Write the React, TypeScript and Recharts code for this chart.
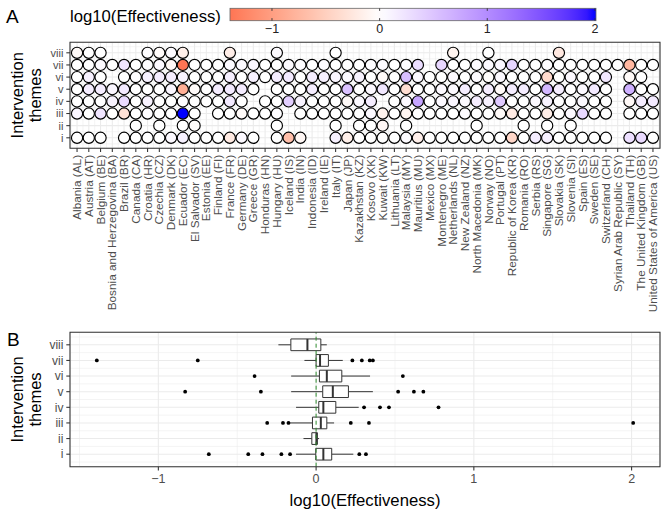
import React from 'react';
import { ScatterChart, Scatter, XAxis, YAxis, CartesianGrid, ReferenceLine, ReferenceArea } from 'recharts';

const FONT = '"Liberation Sans", Arial, Helvetica, sans-serif';
const N = null;

const countries = [
  'Albania (AL)', 'Austria (AT)', 'Belgium (BE)', 'Bosnia and Herzegovina (BA)', 'Brazil (BR)', 'Canada (CA)', 'Croatia (HR)', 'Czechia (CZ)', 'Denmark (DK)', 'Ecuador (EC)',
  'El Salvador (SV)', 'Estonia (EE)', 'Finland (FI)', 'France (FR)', 'Germany (DE)', 'Greece (GR)', 'Honduras (HN)', 'Hungary (HU)', 'Iceland (IS)', 'India (IN)',
  'Indonesia (ID)', 'Ireland (IE)', 'Italy (IT)', 'Japan (JP)', 'Kazakhstan (KZ)', 'Kosovo (XK)', 'Kuwait (KW)', 'Lithuania (LT)', 'Malaysia (MY)', 'Mauritius (MU)',
  'Mexico (MX)', 'Montenegro (ME)', 'Netherlands (NL)', 'New Zealand (NZ)', 'North Macedonia (MK)', 'Norway (NO)', 'Portugal (PT)', 'Republic of Korea (KR)', 'Romania (RO)', 'Serbia (RS)',
  'Singapore (SG)', 'Slovakia (SK)', 'Slovenia (SI)', 'Spain (ES)', 'Sweden (SE)', 'Switzerland (CH)', 'Syrian Arab Republic (SY)', 'Thailand (TH)', 'The United Kingdom (GB)', 'United States of America (US)',
];

const themeLabels = ['i', 'ii', 'iii', 'iv', 'v', 'vi', 'vii', 'viii'];

// log10(Effectiveness) per country (index as in `countries`), one array per theme
const effI = [
  0, 0, 0, N, 0, 0, 0, 0, 0.05, 0.12,
  0, 0, 0, -0.22, 0.05, 0, N, 0, -0.68, -0.08,
  N, N, 0.12, -0.16, 0, 0, 0, 0, 0.03, -0.165,
  0, 0, 0, 0, 0, 0, 0, -0.43, 0, 0.15,
  0.12, 0, 0, 0, 0, 0, N, 0.274, 0.316, 0,
];
const effII = [
  N, N, N, N, N, 0, N, 0, N, 0,
  -0.03, N, N, N, N, N, N, 0, N, N,
  N, N, 0, N, 0, 0, -0.08, N, 0, N,
  N, N, N, N, 0, N, N, N, 0, N,
  0, N, 0, N, N, N, N, N, N, N,
];
const effIII = [
  0.08, 0, 0.22, 0, -0.31, 0, 0.02, 0, 0, 2.01,
  0, N, 0, 0, -0.05, 0, 0, 0.02, N, 0,
  0, 0, 0, 0, 0, 0.05, -0.12, 0, -0.1, 0,
  0, 0, 0, 0.03, 0, 0, -0.05, -0.21, 0, 0,
  -0.175, 0, 0.05, 0.335, 0, 0, N, 0, 0, 0,
];
const effIV = [
  0, 0, 0, 0.1, 0.31, 0, 0.1, 0, 0, 0.02,
  0, 0, 0, 0.18, 0, N, 0, 0, 0.41, 0.1,
  0, 0, 0, -0.05, 0.05, 0.15, N, 0, 0.05, 0.78,
  0, 0.05, 0.08, 0.05, 0.15, 0.12, 0.46, 0, 0, 0.05,
  0.1, 0, 0, 0.05, 0, 0, N, -0.06, 0.15, 0.18,
];
const effV = [
  0, 0.15, 0.15, 0.08, 0.18, 0, 0, 0, 0.08, -0.83,
  -0.04, 0, 0.15, 0.18, 0.16, 0, N, 0, 0, 0,
  0.15, 0, 0, 0.52, 0, 0.05, 0.2, 0, -0.35, 0,
  0, 0.05, 0.05, 0.15, 0, 0.15, -0.05, 0.15, 0.15, 0,
  0.62, 0.15, 0, 0.05, 0.18, 0, N, 0.68, 0, 0,
];
const effVI = [
  0, 0.12, 0, N, 0, 0.02, 0.12, 0.15, 0.15, 0.1,
  0, 0, 0, 0.14, 0, 0.12, 0, 0.15, 0.18, 0,
  0.15, 0.12, 0.08, 0.04, 0.1, 0, -0.05, 0, 0.55, 0.05,
  0, 0, 0.05, 0, 0.03, -0.02, 0.05, 0, 0, 0,
  -0.39, 0, 0.05, 0, 0, 0.2, N, -0.05, 0, N,
];
const effVII = [
  0, 0, 0.03, 0, 0.23, 0, 0.02, 0.05, -0.07, -1.39,
  0, 0, 0, 0.04, 0.05, 0.08, 0, 0, 0.03, 0.02,
  0, 0.03, 0, 0, 0, 0.02, 0.03, 0, 0.02, 0.29,
  N, 0.34, 0, 0, 0.03, 0.05, 0.08, 0.36, 0, 0,
  0.02, 0, 0, 0, 0, 0, 0, -0.75, 0, 0,
];
const effVIII = [
  -0.05, 0, 0, N, N, N, 0.02, -0.04, 0.03, -0.16,
  N, N, N, -0.18, N, N, N, 0.03, N, N,
  N, N, 0, N, N, N, N, N, N, N,
  N, N, -0.12, N, N, 0, N, N, N, N,
  N, -0.24, N, N, N, N, N, N, N, N,
];
const themeRows = [effI, effII, effIII, effIV, effV, effVI, effVII, effVIII];

// Boxplot statistics per theme (i .. viii)
const boxLow = [-0.127, -0.08, -0.165, -0.127, -0.158, -0.158, -0.074, -0.239];
const boxQ1 = [-0.002, -0.027, -0.023, 0.017, 0.042, 0.021, 0.0, -0.16];
const boxMed = [0.046, 0.002, 0.03, 0.046, 0.106, 0.068, 0.025, -0.055];
const boxQ3 = [0.099, 0.008, 0.068, 0.125, 0.205, 0.163, 0.078, 0.03];
const boxHigh = [0.236, 0.019, 0.114, 0.27, 0.36, 0.342, 0.169, 0.068];
const outI = [-0.68, -0.43, -0.34, -0.22, -0.165, 0.274, 0.316];
const outII: number[] = [];
const outIII = [-0.31, -0.21, -0.175, 0.22, 0.335, 2.01];
const outIV = [0.304, 0.405, 0.462, 0.776];
const outV = [-0.83, -0.35, 0.52, 0.62, 0.68];
const outVI = [-0.39, 0.55];
const outVII = [-1.39, -0.75, 0.23, 0.29, 0.34, 0.36];
const outVIII: number[] = [];
const outliers = [outI, outII, outIII, outIV, outV, outVI, outVII, outVIII];

const legendTicks = [-1, 0, 1, 2];
const colourLimits = [-1.39, 2.01];
const xTicksB = [-1, 0, 1, 2];
const xMinorB = [-1.5, -0.5, 0.5, 1.5];

// ---------- colour scale (gradient2 in Lab: red - white - blue) ----------
const toLin = (c: number) => { c /= 255; return c <= 0.04045 ? c / 12.92 : Math.pow((c + 0.055) / 1.055, 2.4); };
const toS = (c: number) => { const v = c <= 0.0031308 ? 12.92 * c : 1.055 * Math.pow(c, 1 / 2.4) - 0.055; return Math.round(Math.max(0, Math.min(1, v)) * 255); };
function rgb2lab(rgb: number[]) {
  const [r, g, b] = rgb.map(toLin);
  const X = (0.4124 * r + 0.3576 * g + 0.1805 * b) / 0.95047;
  const Y = 0.2126 * r + 0.7152 * g + 0.0722 * b;
  const Z = (0.0193 * r + 0.1192 * g + 0.9505 * b) / 1.08883;
  const f = (t: number) => (t > 0.008856 ? Math.cbrt(t) : 7.787 * t + 16 / 116);
  const fx = f(X), fy = f(Y), fz = f(Z);
  return [116 * fy - 16, 500 * (fx - fy), 200 * (fy - fz)];
}
function lab2rgb(lab: number[]) {
  const [L, a, b] = lab;
  const fy = (L + 16) / 116, fx = fy + a / 500, fz = fy - b / 200;
  const fi = (t: number) => (t * t * t > 0.008856 ? t * t * t : (t - 16 / 116) / 7.787);
  const X = fi(fx) * 0.95047, Y = fi(fy), Z = fi(fz) * 1.08883;
  const r = 3.2406 * X - 1.5372 * Y - 0.4986 * Z;
  const g = -0.9689 * X + 1.8758 * Y + 0.0415 * Z;
  const bb = 0.0557 * X - 0.204 * Y + 1.057 * Z;
  return `rgb(${toS(r)},${toS(g)},${toS(bb)})`;
}
const LAB_W = rgb2lab([255, 255, 255]);
const LAB_R = rgb2lab([255, 0, 0]);
const LAB_B = rgb2lab([0, 0, 255]);
const maxAbs = Math.max(Math.abs(colourLimits[0]), Math.abs(colourLimits[1]));
function colour(v: number) {
  const t = Math.min(1, Math.abs(v) / maxAbs);
  const tgt = v < 0 ? LAB_R : LAB_B;
  return lab2rgb(LAB_W.map((w, i) => w + (tgt[i] - w) * t));
}

// ---------- derived tables ----------
const dots = themeRows.flatMap((row, ti) =>
  row.map((v, k) => (v === null ? null : { x: k, y: ti + 1, v: v as number })).filter(Boolean) as { x: number; y: number; v: number }[]
);
const outlierPts = outliers.flatMap((arr, ti) => arr.map((v) => ({ x: v, y: ti + 1 })));
const themePos = themeLabels.map((_, i) => i + 1);
const countryIdx = countries.map((_, i) => i);
const halfX = [-0.5, ...countryIdx.map((i) => i + 0.5)];
const halfY = [0.5, ...themePos.map((p) => p + 0.5)];

const GRID = '#EBEBEB';
const AX = '#333333';
const TXT = '#4D4D4D';

const CountryTick = (p: any) => (
  <text transform={`translate(${p.x},${p.y}) rotate(-90)`} textAnchor="end" dy="0.35em" fontSize={11.8} fill={TXT} fontFamily={FONT}>
    {countries[p.payload.value]}
  </text>
);
const ThemeTickA = (p: any) => (
  <text x={p.x} y={p.y} dy="0.35em" textAnchor="end" fontSize={11} fill={TXT} fontFamily={FONT}>
    {themeLabels[p.payload.value - 1]}
  </text>
);
const ThemeTickB = (p: any) => (
  <text x={p.x} y={p.y} dy="0.35em" textAnchor="end" fontSize={12} fill={TXT} fontFamily={FONT}>
    {themeLabels[p.payload.value - 1]}
  </text>
);
const NumTick = (p: any) => (
  <text x={p.x} y={p.y} dy="0.75em" textAnchor="middle" fontSize={12.5} fill={TXT} fontFamily={FONT}>
    {p.payload.value < 0 ? `\u2212${Math.abs(p.payload.value)}` : `${p.payload.value}`}
  </text>
);

const DotShape = (p: any) => (
  <circle cx={p.cx} cy={p.cy} r={5.6} fill={colour(p.payload.v)} stroke="#000" strokeWidth={1.15} />
);
const OutShape = (p: any) => <circle cx={p.cx} cy={p.cy} r={1.9} fill="#000" />;

const XA_DOMAIN: [number, number] = [-0.6, 49.6];
const YA_DOMAIN: [number, number] = [0.135, 8.865];
const XB_DOMAIN: [number, number] = [-1.56, 2.18];
const YB_DOMAIN: [number, number] = [0.2, 8.8];

// legend geometry
const LEG_X0 = 230, LEG_X1 = 596, LEG_Y0 = 8.3, LEG_Y1 = 20.7;
const legX = (v: number) => LEG_X0 + ((v - colourLimits[0]) / (colourLimits[1] - colourLimits[0])) * (LEG_X1 - LEG_X0);
const gradStops = Array.from({ length: 41 }, (_, i) => i / 40);

export default function App() {
  return (
    <div style={{ position: 'absolute', left: 0, top: 0, width: 668, height: 517, background: '#fff', fontFamily: FONT }}>
      {/* Panel A */}
      <div style={{ position: 'absolute', left: 0, top: 0 }}>
        <ScatterChart width={668} height={330} margin={{ top: 42.3, right: 8, bottom: 0, left: 0 }}>
          <CartesianGrid stroke={GRID} strokeWidth={1.07} />
          {halfX.map((v) => (
            <ReferenceLine key={'ax' + v} x={v} stroke={GRID} strokeWidth={0.55} zIndex={-90} />
          ))}
          {halfY.map((v) => (
            <ReferenceLine key={'ay' + v} y={v} stroke={GRID} strokeWidth={0.55} zIndex={-90} />
          ))}
          <XAxis
            type="number" dataKey="x" domain={XA_DOMAIN} allowDataOverflow ticks={countryIdx} interval={0}
            height={181.7} axisLine={false} tickLine={{ stroke: AX, strokeWidth: 1.07 }} tickSize={3.7} tickMargin={2.9}
            tick={CountryTick}
          />
          <YAxis
            type="number" dataKey="y" domain={YA_DOMAIN} allowDataOverflow ticks={themePos} interval={0}
            width={70} axisLine={false} tickLine={{ stroke: AX, strokeWidth: 1.07 }} tickSize={3.7} tickMargin={2.9}
            tick={ThemeTickA}
          />
          <Scatter data={dots} shape={DotShape} isAnimationActive={false} />
          <ReferenceArea x1={XA_DOMAIN[0]} x2={XA_DOMAIN[1]} y1={YA_DOMAIN[0]} y2={YA_DOMAIN[1]} fill="none" fillOpacity={0} stroke={AX} strokeWidth={1.07} zIndex={2500} />
        </ScatterChart>
      </div>

      {/* Panel B */}
      <div style={{ position: 'absolute', left: 0, top: 320 }}>
        <ScatterChart width={668} height={197} margin={{ top: 12.3, right: 8, bottom: 0, left: 0 }}>
          <CartesianGrid stroke={GRID} strokeWidth={1.07} />
          {xMinorB.map((v) => (
            <ReferenceLine key={'bx' + v} x={v} stroke={GRID} strokeWidth={0.55} zIndex={-90} />
          ))}
          {halfY.map((v) => (
            <ReferenceLine key={'by' + v} y={v} stroke={GRID} strokeWidth={0.55} zIndex={-90} />
          ))}
          <XAxis
            type="number" dataKey="x" domain={XB_DOMAIN} allowDataOverflow ticks={xTicksB} interval={0}
            height={50.3} axisLine={false} tickLine={{ stroke: AX, strokeWidth: 1.07 }} tickSize={3.7} tickMargin={2.9}
            tick={NumTick}
          />
          <YAxis
            type="number" dataKey="y" domain={YB_DOMAIN} allowDataOverflow ticks={themePos} interval={0}
            width={70} axisLine={false} tickLine={{ stroke: AX, strokeWidth: 1.07 }} tickSize={3.7} tickMargin={2.9}
            tick={ThemeTickB}
          />
          {themePos.map((p, i) => (
            <ReferenceLine key={'wl' + p} segment={[{ x: boxLow[i], y: p }, { x: boxQ1[i], y: p }]} stroke={AX} strokeWidth={1} zIndex={300} />
          ))}
          {themePos.map((p, i) => (
            <ReferenceLine key={'wh' + p} segment={[{ x: boxQ3[i], y: p }, { x: boxHigh[i], y: p }]} stroke={AX} strokeWidth={1} zIndex={300} />
          ))}
          {themePos.map((p, i) => (
            <ReferenceArea key={'bx' + p} x1={boxQ1[i]} x2={boxQ3[i]} y1={p - 0.375} y2={p + 0.375} fill="#fff" fillOpacity={1} stroke={AX} strokeWidth={1} zIndex={350} />
          ))}
          {themePos.map((p, i) => (
            <ReferenceLine key={'md' + p} segment={[{ x: boxMed[i], y: p - 0.375 }, { x: boxMed[i], y: p + 0.375 }]} stroke={AX} strokeWidth={2} zIndex={400} />
          ))}
          <ReferenceLine x={0} stroke="#2E8B2E" strokeWidth={1} strokeDasharray="4 3" zIndex={450} />
          <Scatter data={outlierPts} shape={OutShape} isAnimationActive={false} />
          <ReferenceArea x1={XB_DOMAIN[0]} x2={XB_DOMAIN[1]} y1={YB_DOMAIN[0]} y2={YB_DOMAIN[1]} fill="none" fillOpacity={0} stroke={AX} strokeWidth={1.07} zIndex={2500} />
        </ScatterChart>
      </div>

      {/* Titles, tags and colourbar legend */}
      <svg width={668} height={517} style={{ position: 'absolute', left: 0, top: 0, pointerEvents: 'none' }}>
        <defs>
          <linearGradient id="effGrad" x1="0" x2="1" y1="0" y2="0">
            {gradStops.map((t) => (
              <stop key={t} offset={t} stopColor={colour(colourLimits[0] + t * (colourLimits[1] - colourLimits[0]))} />
            ))}
          </linearGradient>
        </defs>
        <text x={6} y={22.7} fontSize={19} fontFamily={FONT} fill="#000">A</text>
        <text x={7} y={345.5} fontSize={19} fontFamily={FONT} fill="#000">B</text>
        <text x={70} y={22} fontSize={16.7} fontFamily={FONT} fill="#000">log10(Effectiveness)</text>
        <rect x={LEG_X0} y={LEG_Y0} width={LEG_X1 - LEG_X0} height={LEG_Y1 - LEG_Y0} fill="url(#effGrad)" stroke="#666" strokeWidth={0.8} />
        {legendTicks.map((v) => (
          <g key={'lt' + v}>
            <line x1={legX(v)} x2={legX(v)} y1={LEG_Y0} y2={LEG_Y0 + 2.6} stroke="#333" strokeWidth={0.9} />
            <line x1={legX(v)} x2={legX(v)} y1={LEG_Y1 - 2.6} y2={LEG_Y1} stroke="#333" strokeWidth={0.9} />
            <text x={legX(v)} y={33} textAnchor="middle" fontSize={12.5} fontFamily={FONT} fill="#222">
              {v < 0 ? `\u2212${Math.abs(v)}` : `${v}`}
            </text>
          </g>
        ))}
        {[95.3, 399.5].map((cy) => (
          <g key={'yt' + cy}>
            <text transform={`translate(22.5,${cy}) rotate(-90)`} textAnchor="middle" fontSize={16.5} fontFamily={FONT} fill="#000">Intervention</text>
            <text transform={`translate(41,${cy}) rotate(-90)`} textAnchor="middle" fontSize={16.5} fontFamily={FONT} fill="#000">themes</text>
          </g>
        ))}
        <text x={365} y={506} textAnchor="middle" fontSize={16.7} fontFamily={FONT} fill="#000">log10(Effectiveness)</text>
      </svg>
    </div>
  );
}
